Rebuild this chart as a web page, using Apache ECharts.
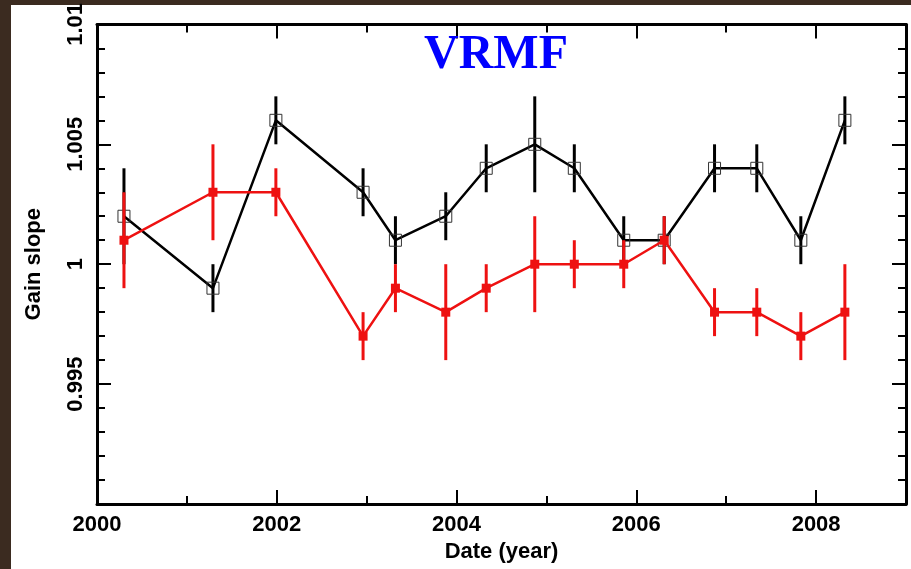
<!DOCTYPE html>
<html>
<head>
<meta charset="utf-8">
<title>VRMF gain slope</title>
<script src="https://cdn.jsdelivr.net/npm/echarts@6/dist/echarts.min.js"></script>
<style>
  html, body { margin: 0; padding: 0; background: #3b2b20; }
  #main { width: 911px; height: 569px; }
</style>
</head>
<body>
<div id="main"></div>
<script>
// epochs (decimal year), same for both sets
const dates = [2000.30, 2001.29, 2001.99, 2002.96, 2003.32, 2003.88, 2004.33, 2004.87,
               2005.31, 2005.86, 2006.31, 2006.87, 2007.34, 2007.83, 2008.32];

// black open squares
const blackSlope = [1.002, 0.999, 1.006, 1.003, 1.001, 1.002, 1.004, 1.005,
                    1.004, 1.001, 1.001, 1.004, 1.004, 1.001, 1.006];
const blackErr   = [0.002, 0.001, 0.001, 0.001, 0.001, 0.001, 0.001, 0.002,
                    0.001, 0.001, 0.001, 0.001, 0.001, 0.001, 0.001];

// red filled squares
const redSlope = [1.001, 1.003, 1.003, 0.997, 0.999, 0.998, 0.999, 1.000,
                  1.000, 1.000, 1.001, 0.998, 0.998, 0.997, 0.998];
const redErr   = [0.002, 0.002, 0.001, 0.001, 0.001, 0.002, 0.001, 0.002,
                  0.001, 0.001, 0.001, 0.001, 0.001, 0.001, 0.002];

const xMin = 2000, xMax = 2009, xStep = 2;
const yMin = 0.99, yMax = 1.01, yStep = 0.005;

const FONT = '"Liberation Sans", Arial, sans-serif';

let chart = echarts.init(document.getElementById('main'), null, {renderer: 'canvas'});

// vertical error bars via custom series
function errBars(vals, errs, color, z) {
    return {
        type: 'custom',
        z: z,
        silent: true,
        encode: {x: 0, y: 1},
        data: dates.map((d, i) => [d, vals[i], errs[i]]),
        renderItem: function (params, api) {
            const x = api.value(0);
            const lo = api.coord([x, api.value(1) - api.value(2)]);
            const hi = api.coord([x, api.value(1) + api.value(2)]);
            return {
                type: 'line',
                shape: {x1: lo[0], y1: lo[1], x2: hi[0], y2: hi[1]},
                style: {stroke: color, lineWidth: 3}
            };
        }
    };
}

function xAxisDef(pos, withLabels) {
    return {
        type: 'value', position: pos, min: xMin, max: xMax, interval: xStep,
        axisLine: {show: true, onZero: false, lineStyle: {color: '#000', width: 3}},
        axisTick: {show: true, inside: true, length: 14, lineStyle: {color: '#000', width: 2}},
        minorTick: {show: true, splitNumber: 2, length: 8, lineStyle: {color: '#000', width: 2}},
        splitLine: {show: false},
        axisLabel: {
            show: withLabels, margin: 10, showMaxLabel: false,
            fontFamily: FONT, fontWeight: 'bold', fontSize: 22, color: '#000',
            formatter: v => String(v)
        },
        name: withLabels ? 'Date (year)' : '',
        nameLocation: 'middle', nameGap: 36,
        nameTextStyle: {fontFamily: FONT, fontWeight: 'bold', fontSize: 22, color: '#000'}
    };
}

function yAxisDef(pos, withLabels) {
    return {
        type: 'value', position: pos, min: yMin, max: yMax, interval: yStep,
        axisLine: {show: true, onZero: false, lineStyle: {color: '#000', width: 3}},
        axisTick: {show: true, inside: true, length: 14, lineStyle: {color: '#000', width: 2}},
        minorTick: {show: true, splitNumber: 5, length: 8, lineStyle: {color: '#000', width: 2}},
        splitLine: {show: false},
        axisLabel: {
            show: withLabels, margin: 10, rotate: 90, showMinLabel: false,
            fontFamily: FONT, fontWeight: 'bold', fontSize: 22, color: '#000',
            formatter: v => String(+v.toFixed(3))
        },
        name: withLabels ? 'Gain slope' : '',
        nameLocation: 'middle', nameGap: 52, nameRotate: 90,
        nameTextStyle: {fontFamily: FONT, fontWeight: 'bold', fontSize: 22, color: '#000'}
    };
}

chart.setOption({
    backgroundColor: '#3b2b20',
    animation: false,
    graphic: [{
        type: 'rect', z: -10, silent: true,
        shape: {x: 11, y: 5, width: 900, height: 564},
        style: {fill: '#ffffff'}
    }],
    title: {
        text: 'VRMF', left: 419, top: 27,
        textStyle: {fontFamily: '"Liberation Serif", "Times New Roman", serif', fontWeight: 'bold', fontSize: 48, color: '#0000ff'}
    },
    grid: {left: 97, right: 5, top: 22, bottom: 65, containLabel: false},
    xAxis: [xAxisDef('bottom', true), xAxisDef('top', false)],
    yAxis: [yAxisDef('left', true), yAxisDef('right', false)],
    series: [
        errBars(blackSlope, blackErr, '#000000', 2),
        {
            type: 'line', z: 3,
            data: dates.map((d, i) => [d, blackSlope[i]]),
            lineStyle: {color: '#000000', width: 2.5},
            symbol: 'rect', symbolSize: 12,
            itemStyle: {color: 'rgba(0,0,0,0)', borderColor: '#333', borderWidth: 1}
        },
        errBars(redSlope, redErr, '#ee1111', 4),
        {
            type: 'line', z: 5,
            data: dates.map((d, i) => [d, redSlope[i]]),
            lineStyle: {color: '#ee1111', width: 2.5},
            symbol: 'rect', symbolSize: 9,
            itemStyle: {color: '#ee1111', borderWidth: 0}
        }
    ]
});
</script>
</body>
</html>
